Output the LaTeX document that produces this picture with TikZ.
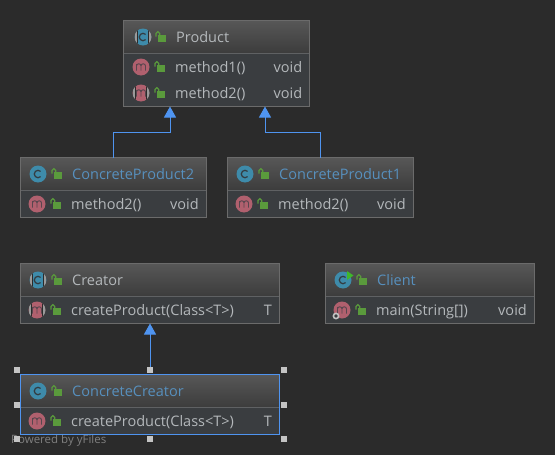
\documentclass[tikz,border=0pt]{standalone}
\usepackage{fontspec}
\setmainfont{Open Sans}
\usetikzlibrary{arrows.meta,calc}
\definecolor{bgc}{HTML}{2B2B2B}
\definecolor{hdtop}{HTML}{575757}
\definecolor{hdbot}{HTML}{3C3C3C}
\definecolor{bodyc}{HTML}{3A3D40}
\definecolor{edgec}{HTML}{6B6B6B}
\definecolor{divc}{HTML}{5F6163}
\definecolor{bluec}{HTML}{4F94F0}
\definecolor{txtc}{HTML}{B4B8BB}
\definecolor{linkc}{HTML}{5790BE}
\definecolor{classc}{HTML}{3E8BAA}
\definecolor{methc}{HTML}{B0606E}
\definecolor{lockc}{HTML}{5A9A3C}
\definecolor{stripec}{HTML}{9A9A9A}
\definecolor{handlec}{HTML}{C4C4C4}
\definecolor{glyphc}{HTML}{333B40}
\tikzset{
  x=1pt,y=-1pt,
  umlbox/.style={draw=edgec,line width=1pt,rectangle,inner sep=0pt,outer sep=0pt,anchor=north west},
  lbl/.style={font=\fontsize{14.5}{17}\selectfont,text=txtc,inner sep=0pt,anchor=base west},
  lblr/.style={font=\fontsize{14.5}{17}\selectfont,text=txtc,inner sep=0pt,anchor=base east},
  lnk/.style={lbl,text=linkc},
  inherit/.style={draw=bluec,line width=1pt,-{Triangle[width=12pt,length=11pt,fill=bluec]}},
  handle/.style={fill=handlec,draw=none,rectangle,minimum size=6pt,inner sep=0pt,outer sep=0pt},
}
% \umlb[border]{name}{x1}{y1}{x2}{y2}{divider y}
\newcommand{\umlb}[7][edgec]{%
  \fill[bodyc] (#3,#4) rectangle (#5,#6);
  \shade[top color=hdtop,bottom color=hdbot] (#3,#4) rectangle (#5,#7);
  \draw[divc,line width=1pt] (#3,#7) -- (#5,#7);
  \node[umlbox,draw=#1,minimum width=#5pt-#3pt,minimum height=#6pt-#4pt] (#2) at (#3,#4) {};
}
\newcommand{\lockic}[2]{%
  \fill[lockc] (#1-3,#2-1) rectangle (#1+5,#2+5.7);
  \draw[lockc,line width=1.2pt] (#1-5,#2+.5) -- (#1-5,#2-2.5) arc[start angle=180,end angle=360,radius=1.9] -- (#1-1.2,#2-1);
}
\newcommand{\sidestripes}[2]{%
  \begin{scope}
    \clip (#1,#2) circle (8.5);
    \fill[bgc] (#1-8.5,#2-9) rectangle (#1-5,#2+9);
    \fill[bgc] (#1+5,#2-9) rectangle (#1+8.5,#2+9);
    \fill[stripec] (#1-8.5,#2-9) rectangle (#1-6,#2+9);
    \fill[stripec] (#1+6,#2-9) rectangle (#1+8.5,#2+9);
  \end{scope}
}
\newcommand{\cic}[3]{% x y abstract
  \fill[classc] (#1,#2) circle (8.5);
  \ifnum#3=1 \sidestripes{#1}{#2}\fi
  \draw[glyphc,line width=1.2pt] (#1+2.6,#2-2.6) arc[start angle=-45,end angle=-315,radius=3.7];
}
\newcommand{\mic}[3]{%
  \fill[methc] (#1,#2) circle (8.5);
  \ifnum#3=1 \sidestripes{#1}{#2}\fi
  \draw[glyphc!70!methc,line width=.9pt] (#1-4.5,#2+3.5) -- (#1-4.5,#2-3) (#1-4.5,#2-1) arc[start angle=180,end angle=360,radius=2.25] -- (#1,#2+3.5)
    (#1,#2-1) arc[start angle=180,end angle=360,radius=2.25] -- (#1+4.5,#2+3.5);
}
\begin{document}
\begin{tikzpicture}
\useasboundingbox[fill=bgc] (0,0) rectangle (555,455);
% boxes
\umlb{product}{123.5}{20.5}{309.5}{106.5}{53.5}
\umlb{cptwo}{20.5}{157.5}{206.5}{217.5}{190.5}
\umlb{cpone}{227.5}{157.5}{413.5}{217.5}{190.5}
\umlb{creator}{20.5}{263.5}{279.5}{323.5}{296.5}
\umlb{client}{325.5}{263.5}{534.5}{323.5}{296.5}
% watermark under the selected box
\node[font=\fontsize{11.5}{14}\selectfont,text=white!40!bgc,inner sep=0pt,anchor=base west] (yfiles) at (11,443) {Powered by yFiles};
\umlb[bluec]{cc}{20.5}{374.5}{279.5}{434.5}{407.5}
\node[handle] (h1) at (17,370) {};
\node[handle] (h2) at (150,370) {};
\node[handle] (h3) at (284,370) {};
\node[handle] (h4) at (17,405) {};
\node[handle] (h5) at (284,405) {};
\node[handle] (h6) at (17,439) {};
\node[handle] (h7) at (150,439) {};
\node[handle] (h8) at (284,439) {};
% connectors
\draw[inherit] (cptwo.north) -- ++(0,-25) -| ([xshift=-46.5pt]product.south);
\draw[inherit] (cpone.north) -- ++(0,-25) -| ([xshift=48.5pt]product.south);
\draw[inherit] (h2.north) -- (creator.south);
% Product
\cic{143}{37}{1}\lockic{161}{36}
\node[lbl] (t1) at (176,42) {Product};
\mic{141}{67}{0}\lockic{160}{66}
\node[lbl] (t2) at (175,72.5) {method1()};
\node[lblr] (t3) at (302.5,72.5) {void};
\mic{141}{93}{1}\lockic{160}{92}
\node[lbl] (t4) at (175,98.5) {method2()};
\node[lblr] (t5) at (302.5,98.5) {void};
% ConcreteProduct2
\cic{38}{174}{0}\lockic{57}{173}
\node[lnk] (t6) at (72,179) {ConcreteProduct2};
\mic{37}{204}{0}\lockic{56}{203}
\node[lbl] (t7) at (71,209.5) {method2()};
\node[lblr] (t8) at (199,209.5) {void};
% ConcreteProduct1
\cic{245}{174}{0}\lockic{264}{173}
\node[lnk] (t9) at (279,179) {ConcreteProduct1};
\mic{244}{204}{0}\lockic{263}{203}
\node[lbl] (t10) at (278,209.5) {method2()};
\node[lblr] (t11) at (406,209.5) {void};
% Creator
\cic{38}{280}{1}\lockic{57}{279}
\node[lbl] (t12) at (72,285) {Creator};
\mic{37}{310}{1}\lockic{56}{309}
\node[lbl] (t13) at (71,315.5) {createProduct(Class<T>)};
\node[lblr] (t14) at (272,315.5) {T};
% Client
\cic{343}{280}{0}\lockic{362}{279}
\fill[lockc!70!green] (347,271) -- (353.5,275.5) -- (347,280) -- cycle;
\node[lnk] (t15) at (377,285) {Client};
\mic{342}{310}{0}\lockic{361}{309}
\draw[handlec,line width=1.6pt,fill=bodyc] (336,316) circle (2.6);
\node[lbl] (t16) at (376,315.5) {main(String[])};
\node[lblr] (t17) at (527,315.5) {void};
% ConcreteCreator
\cic{38}{391}{0}\lockic{57}{390}
\node[lnk] (t18) at (72,396) {ConcreteCreator};
\mic{37}{421}{0}\lockic{56}{420}
\node[lbl] (t19) at (71,426.5) {createProduct(Class<T>)};
\node[lblr] (t20) at (272,426.5) {T};
\end{tikzpicture}
\end{document}
